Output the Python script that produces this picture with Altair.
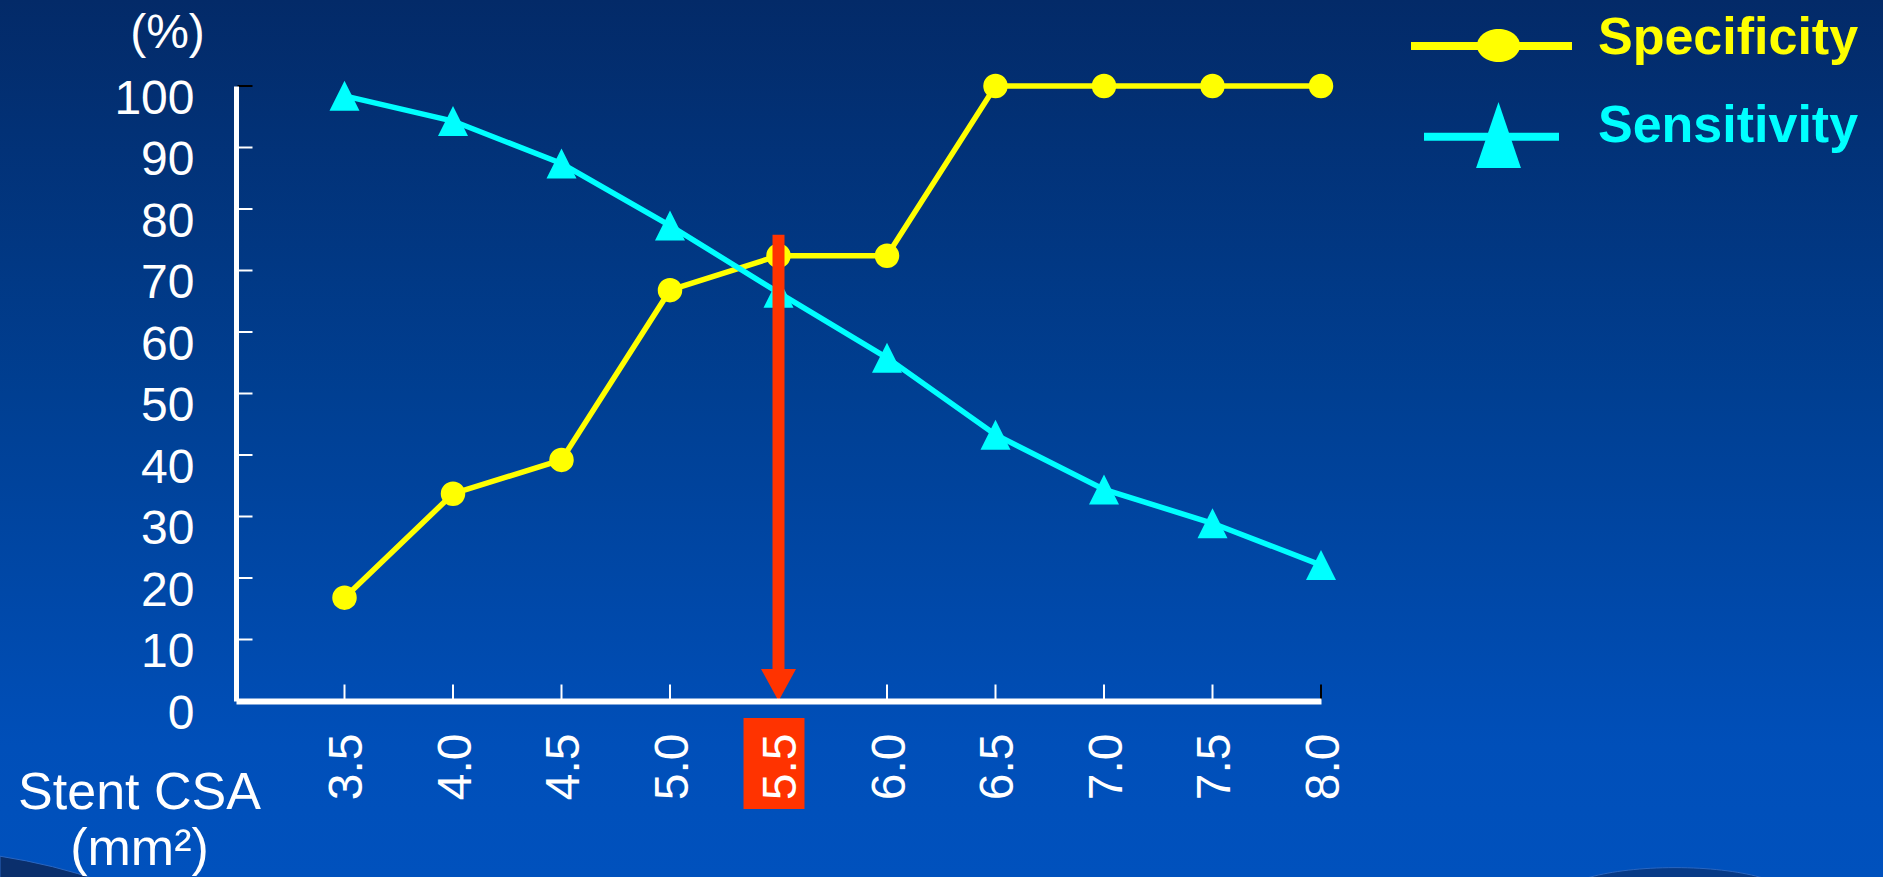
import altair as alt
import pandas as pd

# ---------------- data ----------------
csa = [3.5, 4.0, 4.5, 5.0, 5.5, 6.0, 6.5, 7.0, 7.5, 8.0]
specificity = [16.8, 33.7, 39.2, 66.8, 72.4, 72.4, 100, 100, 100, 100]
sensitivity = [98.4, 94.3, 87.4, 77.3, 66.4, 55.8, 43.3, 34.4, 28.9, 22.1]
series_names = ["Specificity", "Sensitivity"]
series_colors = ["#FFFF00", "#00FFFF"]
y_values = [0, 10, 20, 30, 40, 50, 60, 70, 80, 90, 100]
x_inner_ticks = [3.5, 4.0, 4.5, 5.0, 5.5, 6.0, 6.5, 7.0, 7.5]
x_end_ticks = [3.0, 8.0]
y_inner_ticks = [10, 20, 30, 40, 50, 60, 70, 80, 90]
y_end_ticks = [100]
cutoff_csa = 5.5
arrow_top_pct = 75.8
x_title = ["Stent CSA", "(mm²)"]
y_title = "(%)"

FONT = "Liberation Sans"
RED = "#FF3300"

W, H = 1085, 615
PAD = {"left": 236, "top": 86, "right": 562, "bottom": 176}

rows = []
for name, vals in zip(series_names, [specificity, sensitivity]):
    for c, v in zip(csa, vals):
        rows.append({"csa": c, "pct": v, "series": name})
df = pd.DataFrame(rows)

xscale = alt.Scale(domain=[3.0, 8.0], nice=False, zero=False)
yscale = alt.Scale(domain=[0, 100], nice=False, zero=False)

xaxis = alt.Axis(
    values=csa, format=".1f", labelAngle=270, labelAlign="right", labelBaseline="middle",
    labelFont=FONT, labelFontSize=48, labelColor="white", labelPadding=32, labelOffset=3,
    ticks=False, tickSize=0, grid=False, domainColor="white", domainWidth=6,
    title=x_title, titleFont=FONT, titleFontSize=52, titleFontWeight="normal", titleColor="white",
    titleAngle=0, titleAlign="center", titleBaseline="alphabetic", titleX=-97, titleY=107,
    titleLineHeight=56, zindex=1, labelFlush=False, labelOverlap=False,
)
yaxis = alt.Axis(
    values=y_values, labelFont=FONT, labelFontSize=48, labelColor="white", labelPadding=42,
    labelOffset=13, labelBaseline="middle", ticks=False, tickSize=0, grid=False,
    domainColor="white", domainWidth=5,
    title=y_title, titleFont=FONT, titleFontSize=48, titleFontWeight="normal", titleColor="white",
    titleAngle=0, titleAlign="center", titleBaseline="alphabetic", titleX=-69, titleY=-39,
    zindex=1, labelFlush=False, labelOverlap=False,
)

X = alt.X("csa:Q", scale=xscale, axis=xaxis)
Y = alt.Y("pct:Q", scale=yscale, axis=yaxis)

dummy = pd.DataFrame({"csa": [cutoff_csa], "pct": [0]})

# background gradient
bg = alt.Chart(dummy).mark_rect(
    color=alt.LinearGradient(
        gradient="linear",
        stops=[
            alt.GradientStop(color="#032a68", offset=0),
            alt.GradientStop(color="#003f92", offset=0.45),
            alt.GradientStop(color="#004fb9", offset=0.85),
            alt.GradientStop(color="#0051bd", offset=1),
        ],
        x1=0, x2=0, y1=0, y2=1,
    )
).encode(x=alt.value(-PAD["left"]), x2=alt.value(W + PAD["right"]),
         y=alt.value(-PAD["top"]), y2=alt.value(H + PAD["bottom"]))

# decorative dark swooshes of the slide template (bottom edge)
swoosh_left = alt.Chart(dummy).mark_point(
    shape="M-1,-0.09Q-0.55,-0.02,-0.15,0.12L-1,0.12Z", size=57600, filled=True, opacity=1,
    color="#0a2f6c", stroke="#2a66c0", strokeWidth=1).encode(x=alt.value(-116), y=alt.value(781))
swoosh_right = alt.Chart(dummy).mark_point(
    shape="M-1,0A1,0.27,0,1,1,1,0A1,0.27,0,1,1,-1,0Z", size=57600, filled=True, opacity=1,
    color="#073a86", stroke="#2a66c0", strokeWidth=1).encode(x=alt.value(1439), y=alt.value(814))

color = alt.Color("series:N", scale=alt.Scale(domain=series_names, range=series_colors), legend=None)

lines = alt.Chart(df).mark_line(strokeWidth=5.5).encode(x=X, y=Y, color=color, detail="series:N")

pts_spec = alt.Chart(df).transform_filter(alt.datum.series == series_names[0]).mark_point(
    shape="circle", size=600, filled=True, opacity=1, color=series_colors[0]
).encode(x=X, y=Y)
pts_sens = alt.Chart(df).transform_filter(alt.datum.series == series_names[1]).mark_point(
    shape="M0,-1L1,1L-1,1Z", size=900, filled=True, opacity=1, color=series_colors[1]
).encode(x=X, y=Y)

# inner ticks
xt = pd.DataFrame({"csa": x_inner_ticks + x_end_ticks, "pct": 0,
                   "c": ["white"] * len(x_inner_ticks) + ["black"] * len(x_end_ticks)})
yt = pd.DataFrame({"csa": 3.0, "pct": y_inner_ticks + y_end_ticks,
                   "c": ["white"] * len(y_inner_ticks) + ["black"] * len(y_end_ticks)})
xticks = alt.Chart(xt).mark_tick(orient="vertical", size=15, thickness=2, yOffset=-9, opacity=1).encode(
    x=X, y=Y, color=alt.Color("c:N", scale=None))
yticks = alt.Chart(yt).mark_tick(orient="horizontal", size=15, thickness=2, xOffset=9, opacity=1).encode(
    x=X, y=Y, color=alt.Color("c:N", scale=None))

# cutoff arrow and highlighted label box
arrow_df = pd.DataFrame({"csa": [cutoff_csa], "pct": [arrow_top_pct], "pct2": [0]})
arrow_shaft = alt.Chart(arrow_df).mark_rule(color=RED, strokeWidth=12, y2Offset=-20).encode(
    x=X, y=Y, y2="pct2:Q")
arrow_head = alt.Chart(dummy).mark_point(
    shape="M-1,-0.914L1,-0.914L0,0.914Z", size=1225, filled=True, opacity=1, color=RED, yOffset=-16
).encode(x=X, y=Y)
label_box = alt.Chart(dummy).mark_point(
    shape="M-0.67,-1L0.67,-1L0.67,1L-0.67,1Z", size=8281, filled=True, opacity=1, color=RED,
    xOffset=-4.5, yOffset=62.5
).encode(x=X, y=Y)

# legend (drawn by hand, top right)
leg_spec_line = alt.Chart(dummy).mark_rule(color=series_colors[0], strokeWidth=8).encode(
    x=alt.value(1175), x2=alt.value(1336), y=alt.value(-40))
leg_spec_sym = alt.Chart(dummy).mark_point(
    shape="M-1,0A1,0.767,0,1,1,1,0A1,0.767,0,1,1,-1,0Z", size=1849, filled=True, opacity=1,
    color=series_colors[0]).encode(x=alt.value(1262.5), y=alt.value(-40.5))
leg_spec_txt = alt.Chart(dummy).mark_text(
    text=series_names[0], font=FONT, fontSize=52, fontWeight="bold", color=series_colors[0],
    align="left", baseline="alphabetic").encode(x=alt.value(1362), y=alt.value(-32))
leg_sens_line = alt.Chart(dummy).mark_rule(color=series_colors[1], strokeWidth=8).encode(
    x=alt.value(1188), x2=alt.value(1323), y=alt.value(50.7))
leg_sens_sym = alt.Chart(dummy).mark_point(
    shape="M0,-1L0.68,1L-0.68,1Z", size=4356, filled=True, opacity=1,
    color=series_colors[1]).encode(x=alt.value(1262.5), y=alt.value(49))
leg_sens_txt = alt.Chart(dummy).mark_text(
    text=series_names[1], font=FONT, fontSize=52, fontWeight="bold", color=series_colors[1],
    align="left", baseline="alphabetic").encode(x=alt.value(1362), y=alt.value(56))

chart = alt.layer(
    bg, swoosh_left, swoosh_right, lines, pts_spec, pts_sens, xticks, yticks,
    arrow_shaft, arrow_head, label_box,
    leg_spec_line, leg_spec_sym, leg_spec_txt, leg_sens_line, leg_sens_sym, leg_sens_txt,
).properties(
    width=W, height=H, padding=PAD, autosize=alt.AutoSizeParams(type="none"),
    background="#0050bc",
).configure_view(stroke=None)

chart.save("out.html", embed_options={"renderer": "svg", "actions": False})
